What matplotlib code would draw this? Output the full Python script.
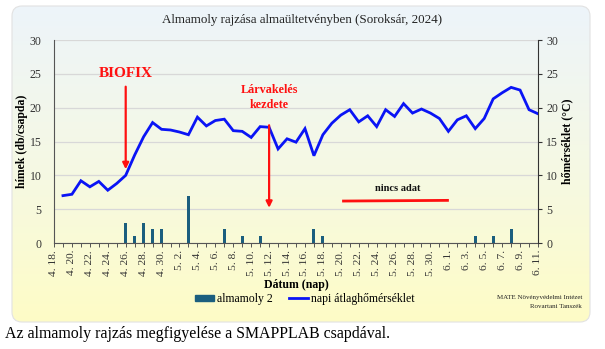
import numpy as np
import matplotlib
matplotlib.use("Agg")
import matplotlib.pyplot as plt
from matplotlib.patches import FancyBboxPatch, Patch
from matplotlib.lines import Line2D
from matplotlib.colors import LinearSegmentedColormap

plt.rcParams['font.family'] = ['Liberation Serif', 'DejaVu Serif']

# ---- data ----
# days 4.18 ... 6.11 (index 0..54)
day_labels = ["4. 18.", "4. 20.", "4. 22.", "4. 24.", "4. 26.", "4. 28.", "4. 30.",
              "5. 2.", "5. 4.", "5. 6.", "5. 8.", "5. 10.", "5. 12.", "5. 14.",
              "5. 16.", "5. 18.", "5. 20.", "5. 22.", "5. 24.", "5. 26.", "5. 28.",
              "5. 30.", "6. 1.", "6. 3.", "6. 5.", "6. 7.", "6. 9.", "6. 11."]
n_days = 55

# moth catches: (day index, count)
catch_days = [8, 9, 10, 11, 12, 15, 19, 21, 23, 29, 30, 47, 49, 51]
catch_counts = [3, 1, 3, 2, 2, 7, 2, 1, 1, 2, 1, 1, 1, 2]

# daily mean temperature, from 4.19 (index 1) to 6.11 (index 54)
temp_days = list(range(1, 55))
temps = [7.0, 7.2, 9.2, 8.3, 9.1, 7.8, 8.8, 10.0, 13.0, 15.7,
         17.8, 16.8, 16.7, 16.4, 16.0, 18.6, 17.3, 18.1, 18.3, 16.6,
         16.5, 15.6, 17.2, 17.1, 13.9, 15.4, 14.9, 16.9, 12.9, 16.0,
         17.7, 18.9, 19.7, 17.9, 18.8, 17.2, 19.7, 18.7, 20.6, 19.2,
         19.8, 19.2, 18.4, 16.5, 18.2, 18.8, 16.9, 18.4, 21.3, 22.2,
         23.0, 22.6, 19.7, 19.1]

W, H = 605, 349
fig = plt.figure(figsize=(W / 100, H / 100), dpi=100)

# ---- background panel ----
bg = fig.add_axes([0, 0, 1, 1], zorder=-5)
bg.set_xlim(0, W)
bg.set_ylim(0, H)
bg.axis('off')
cmap = LinearSegmentedColormap.from_list(
    'bgc', [(0.0, '#fefcc6'), (0.45, '#f6f9e2'), (1.0, '#edf4fa')])
grad = np.linspace(0, 1, 256).reshape(-1, 1)
px0, py0, pw, ph = 12, H - 322, 578, 316
im = bg.imshow(grad, cmap=cmap, origin='lower', aspect='auto',
               extent=[px0, px0 + pw, py0, py0 + ph], zorder=0)
panel = FancyBboxPatch((px0, py0), pw, ph,
                       boxstyle='round,pad=0,rounding_size=10',
                       fc='none', ec='#e2e2e2', lw=0.8, zorder=1)
bg.add_patch(panel)
im.set_clip_path(panel)

# ---- main axes ----
ax = fig.add_axes([54 / W, 1 - 243 / H, (538 - 54) / W, (243 - 40) / H])
ax.set_facecolor('none')
ax.set_xlim(0, n_days - 1)
ax.set_ylim(0, 30)
ax.set_yticks(range(0, 31, 5))
ax.yaxis.grid(True, color='#d8d8d8', lw=0.9)
ax.set_axisbelow(True)
for s in ['top', 'right']:
    ax.spines[s].set_visible(False)
ax.spines['left'].set_color('#555555')
ax.spines['bottom'].set_color('#555555')
ax.tick_params(axis='y', length=0, pad=9, labelsize=8.5, colors='#333333')
ax.set_xticks(range(0, n_days, 2))
ax.set_xticklabels(day_labels, rotation=90, fontsize=8.2, color='#333333')
ax.set_xticks(range(n_days), minor=True)
ax.tick_params(axis='x', which='both', length=3, width=0.7, color='#555555', pad=2)

ax.bar(catch_days, catch_counts, width=0.32, color='#1b5e7e', zorder=2)

ax2 = ax.twinx()
ax2.set_ylim(0, 30)
ax2.set_yticks(range(0, 31, 5))
for s in ['top', 'left', 'bottom']:
    ax2.spines[s].set_visible(False)
ax2.spines['right'].set_color('#333333')
ax2.tick_params(axis='y', length=3, width=0.8, pad=3, labelsize=8.5, colors='#333333')
ax2.plot(temp_days, temps, color='#0a14f5', lw=2.0, zorder=3, solid_joinstyle='miter')

ax.set_ylabel('hímek (db/csapda)', fontsize=8.5, fontweight='bold', labelpad=1)
ax2.set_ylabel('hőmérséklet (°C)', fontsize=8.5, fontweight='bold', labelpad=2.5)
ax.set_xlabel('Dátum (nap)', fontsize=8.5, fontweight='bold', labelpad=2)

# ---- annotations ----
red = '#ff1010'
ax2.text(8, 25.0, 'BIOFIX', color=red, fontsize=11, fontweight='bold',
         ha='center', va='center')
ax2.annotate('', xy=(8, 10.9), xytext=(8, 23.1),
             arrowprops=dict(arrowstyle='-|>', color=red, lw=1.6,
                             mutation_scale=9, shrinkA=0, shrinkB=0))
ax2.text(24, 21.5, 'Lárvakelés\nkezdete', color=red, fontsize=8.7,
         fontweight='bold', ha='center', va='center', linespacing=1.3)
ax2.annotate('', xy=(24, 5.2), xytext=(24, 17.4),
             arrowprops=dict(arrowstyle='-|>', color=red, lw=1.6,
                             mutation_scale=9, shrinkA=0, shrinkB=0))
ax2.text(38.3, 8.1, 'nincs adat', color='#111111', fontsize=7.5,
         fontweight='bold', ha='center', va='center')
ax2.plot([32.3, 43.9], [6.2, 6.3], color=red, lw=2.0)

# ---- legend ----
handles = [Patch(color='#1b5e7e'), Line2D([], [], color='#0a14f5', lw=2)]
fig.legend(handles, ['almamoly 2', 'napi átlaghőmérséklet'],
           loc='center', bbox_to_anchor=(305 / W, 1 - 299 / H), ncol=2,
           frameon=False, fontsize=8.5, handlelength=1.6, handleheight=0.4,
           handletextpad=0.25, columnspacing=1.4)

fig.text(582 / W, 1 - 297 / H, 'MATE Növényvédelmi Intézet', fontsize=5,
         ha='right', va='center', color='#222222')
fig.text(582 / W, 1 - 306 / H, 'Rovartani Tanszék', fontsize=5,
         ha='right', va='center', color='#222222')

fig.text(302 / W, 1 - 20 / H, 'Almamoly rajzása almaültetvényben (Soroksár, 2024)',
         fontsize=9.4, ha='center', va='center', color='#222222')

fig.text(5 / W, 1 - 334 / H, 'Az almamoly rajzás megfigyelése a SMAPPLAB csapdával.',
         fontsize=11.4, ha='left', va='center', color='black')

fig.savefig('out.png', dpi=100)
